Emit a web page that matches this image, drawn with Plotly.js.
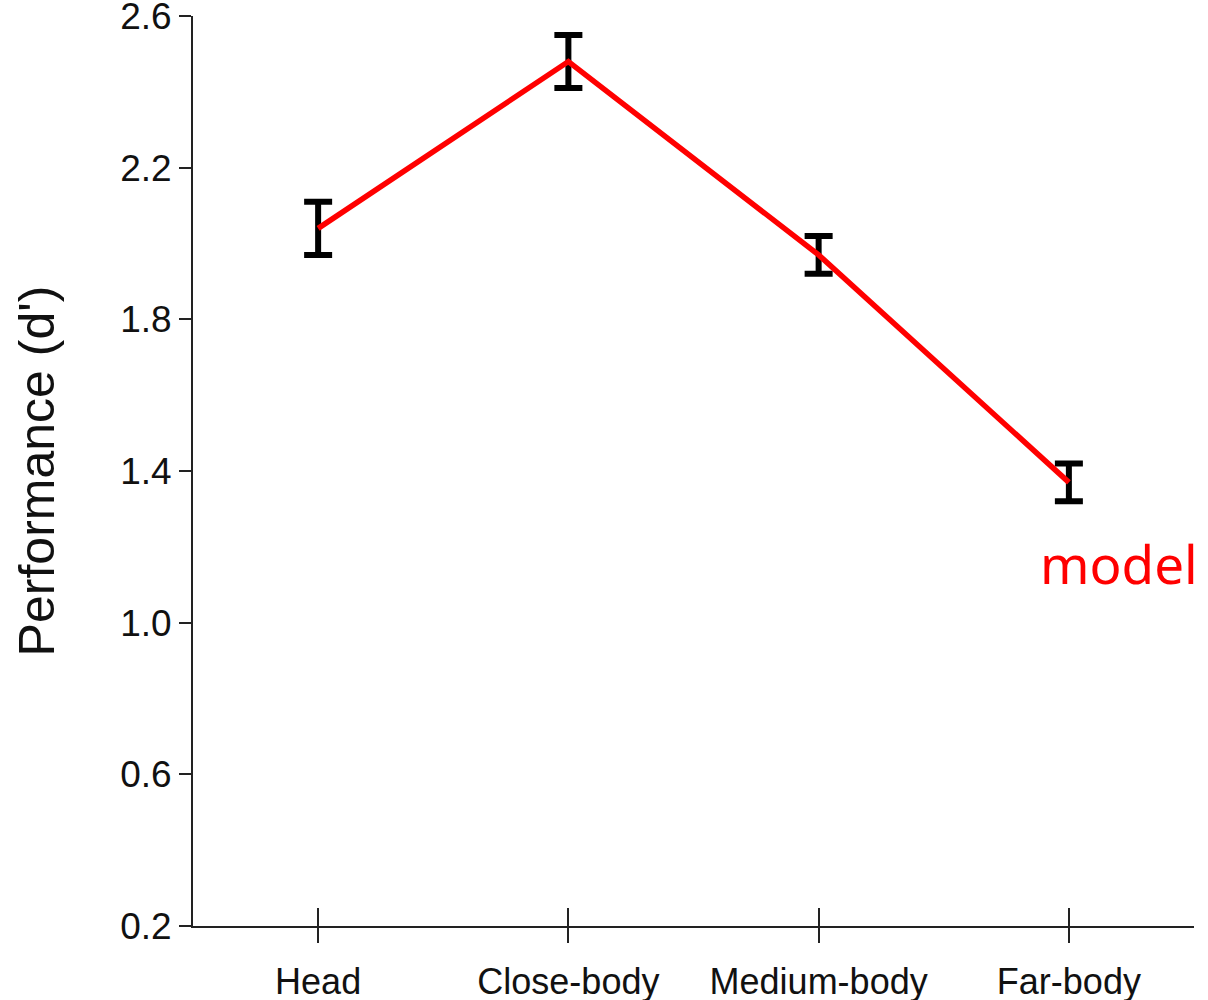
<!DOCTYPE html>
<html>
<head>
<meta charset="utf-8">
<script src="https://cdn.plot.ly/plotly-3.0.1.min.js"></script>
<style>
  html, body { margin: 0; padding: 0; background: #ffffff; }
  #chart { width: 1208px; height: 1000px; }
</style>
</head>
<body>
<div id="chart"></div>
<script>
// Data
const conditions = ["Head", "Close-body", "Medium-body", "Far-body"];
const performance = [2.04, 2.48, 1.97, 1.37];
const errors = [0.07, 0.07, 0.05, 0.05];
const yTicks = [0.2, 0.6, 1.0, 1.4, 1.8, 2.2, 2.6];
const seriesLabel = "model";

const fontFamily = "Liberation Sans, Arial, sans-serif";

const traces = [
  {
    type: "scatter",
    mode: "lines",
    x: conditions,
    y: performance,
    line: { color: "#ff0000", width: 5.5 },
    error_y: { type: "data", array: errors, visible: true, color: "#000000", thickness: 6, width: 14 },
    showlegend: false,
    hoverinfo: "x+y"
  },
  {
    type: "scatter",
    mode: "lines",
    x: conditions,
    y: performance,
    xaxis: "x2",
    yaxis: "y",
    line: { color: "rgba(0,0,0,0)", width: 0 },
    showlegend: false,
    hoverinfo: "skip"
  }
];

const layout = {
  width: 1208,
  height: 1000,
  paper_bgcolor: "#ffffff",
  plot_bgcolor: "#ffffff",
  margin: { l: 193, r: 14, t: 16, b: 74 },
  showlegend: false,
  xaxis: {
    type: "category",
    categoryorder: "array",
    categoryarray: conditions,
    range: [-0.5, 3.5],
    showgrid: false,
    zeroline: false,
    showline: true,
    linecolor: "#222222",
    linewidth: 2,
    ticks: "outside",
    ticklen: 15,
    tickwidth: 2,
    tickcolor: "#222222",
    tickfont: { family: fontFamily, size: 36, color: "#111111" },
    ticklabelstandoff: 8,
    ticklabeloverflow: "allow",
    fixedrange: true
  },
  xaxis2: {
    type: "category",
    categoryorder: "array",
    categoryarray: conditions,
    overlaying: "x",
    anchor: "y",
    side: "bottom",
    range: [-0.5, 3.5],
    showgrid: false,
    zeroline: false,
    showline: false,
    ticks: "inside",
    ticklen: 18,
    tickwidth: 2,
    tickcolor: "#222222",
    showticklabels: false,
    fixedrange: true
  },
  yaxis: {
    range: [0.1999, 2.6001],
    tickvals: yTicks,
    tickformat: ".1f",
    showgrid: false,
    zeroline: false,
    showline: true,
    linecolor: "#222222",
    linewidth: 2,
    ticks: "outside",
    ticklen: 12,
    tickwidth: 2,
    tickcolor: "#222222",
    tickfont: { family: fontFamily, size: 37, color: "#111111" },
    ticklabeloverflow: "allow",
    title: {
      text: "Performance (d')",
      font: { family: fontFamily, size: 50, color: "#111111" },
      standoff: 50
    },
    fixedrange: true
  },
  annotations: [
    {
      text: seriesLabel,
      x: 3.2,
      y: 1.157,
      xref: "x",
      yref: "y",
      xanchor: "center",
      yanchor: "middle",
      showarrow: false,
      font: { family: "Noto Sans, sans-serif", size: 53, color: "#ff0000" }
    }
  ]
};

Plotly.newPlot("chart", traces, layout, { displayModeBar: false, staticPlot: true });
</script>
</body>
</html>
